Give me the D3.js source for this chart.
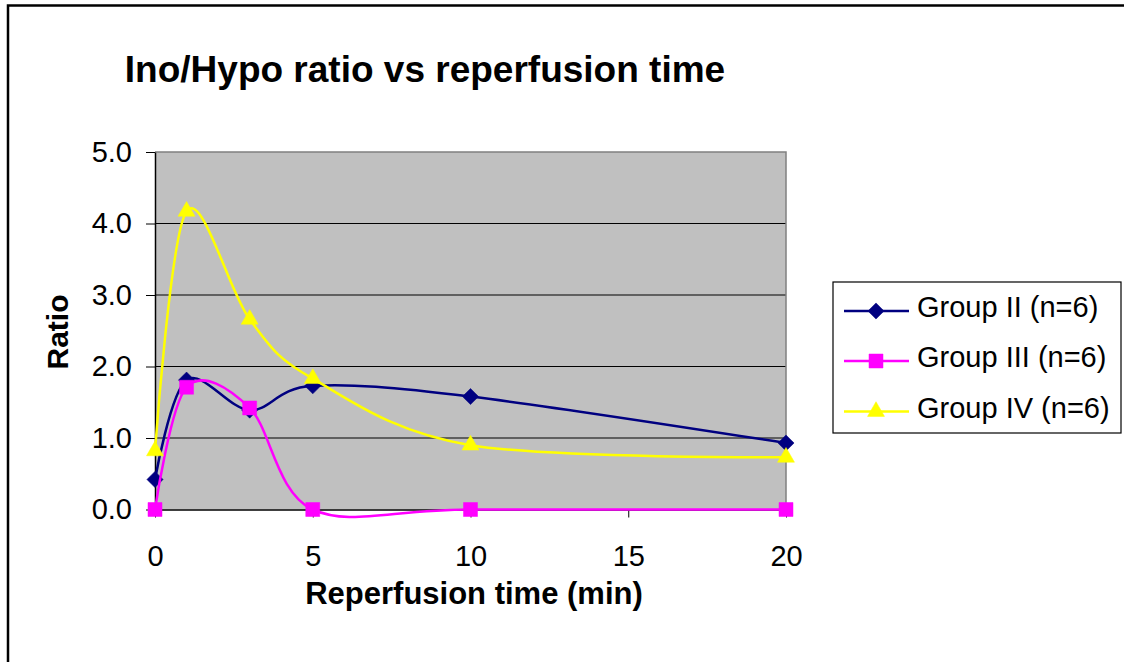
<!DOCTYPE html>
<html><head><meta charset="utf-8">
<script src="https://cdn.jsdelivr.net/npm/d3@7"></script>
<style>body{margin:0;background:#fff}svg{display:block;font-family:"Liberation Sans",Arial,sans-serif}</style>
</head><body><svg id="c" width="1124" height="662"></svg>
<script>
const times = [0, 1, 3, 5, 10, 20];
const groupII = [0.42, 1.81, 1.39, 1.73, 1.58, 0.93];
const groupIII = [0, 1.71, 1.42, 0, 0, 0];
const groupIV = [0.82, 4.17, 2.66, 1.83, 0.90, 0.73];
const seriesNames = ["Group II (n=6)", "Group III (n=6)", "Group IV (n=6)"];
const yTicks = [0, 1, 2, 3, 4, 5];
const xTicks = [0, 5, 10, 15, 20];
const titleText = "Ino/Hypo ratio vs reperfusion time";
const xTitle = "Reperfusion time (min)";
const yTitle = "Ratio";

const colors = ["#000080", "#FF00FF", "#FFFF00"];
const shapes = ["diamond", "square", "triangle"];
const seriesValues = [groupII, groupIII, groupIV];

const svg = d3.select("#c");
const L = 155, R = 786, T = 152, B = 509.5;
const x = d3.scaleLinear().domain([0, 20]).range([L, R]);
const y = d3.scaleLinear().domain([0, 5]).range([B, T]);

// outer border
svg.append("rect").attr("x", 8).attr("y", 5.5).attr("width", 1300).attr("height", 800)
  .attr("fill", "none").attr("stroke", "#000").attr("stroke-width", 2.5);

// plot background
svg.append("rect").attr("x", L).attr("y", T).attr("width", R - L).attr("height", B - T)
  .attr("fill", "#C0C0C0");
// gridlines
svg.append("g").selectAll("line").data(yTicks.filter(d => d > 0 && d < 5)).join("line")
  .attr("x1", L).attr("x2", R).attr("y1", d => y(d)).attr("y2", d => y(d))
  .attr("stroke", "#000").attr("stroke-width", 1);
// top and right border of plot
svg.append("path").attr("d", `M${L},${T}H${R}V${B}`).attr("fill", "none")
  .attr("stroke", "#808080").attr("stroke-width", 1.5);

// axes
const yAxis = svg.append("g").attr("transform", `translate(${L},0)`)
  .call(d3.axisLeft(y).tickValues(yTicks).tickFormat(d3.format(".1f")).tickSize(9).tickSizeOuter(0).tickPadding(14));
const xAxis = svg.append("g").attr("transform", `translate(0,${B})`)
  .call(d3.axisBottom(x).tickValues(xTicks).tickFormat(d3.format("d")).tickSize(8).tickSizeOuter(0).tickPadding(28));
[yAxis, xAxis].forEach(g => {
  g.selectAll("text").attr("font-size", 29).attr("fill", "#000").attr("font-family", "Liberation Sans, Arial, sans-serif");
  g.selectAll("line").attr("stroke", "#000").attr("stroke-width", 1);
  g.select(".domain").attr("stroke", "#000").attr("stroke-width", 1.5);
});

// series
function markerPath(shape) {
  if (shape === "diamond") return d3.symbol(d3.symbolSquare, 130)();
  if (shape === "square") return d3.symbol(d3.symbolSquare, 196)();
  return d3.symbol(d3.symbolTriangle, 125)();
}
const line = d3.line().x(d => x(d[0])).y(d => y(d[1])).curve(d3.curveCardinal.tension(0));
seriesValues.forEach((vals, i) => {
  const pts = times.map((t, j) => [t, vals[j]]);
  const g = svg.append("g");
  g.append("path").attr("d", line(pts)).attr("fill", "none")
    .attr("stroke", colors[i]).attr("stroke-width", 2.5);
  g.selectAll("path.m").data(pts).join("path").attr("class", "m")
    .attr("d", markerPath(shapes[i]))
    .attr("transform", d => `translate(${x(d[0])},${y(d[1])})` + (shapes[i] === "diamond" ? " rotate(45)" : ""))
    .attr("fill", colors[i]).attr("stroke", colors[i]).attr("stroke-width", 0.5);
});

// title
svg.append("text").attr("x", 425).attr("y", 82).attr("text-anchor", "middle")
  .attr("font-size", 37).attr("font-weight", "bold").text(titleText);
svg.append("text").attr("x", 474).attr("y", 604).attr("text-anchor", "middle")
  .attr("font-size", 31).attr("font-weight", "bold").text(xTitle);
svg.append("text").attr("transform", "translate(68,332) rotate(-90)").attr("text-anchor", "middle")
  .attr("font-size", 30).attr("font-weight", "bold").text(yTitle);

// legend
const lg = svg.append("g");
lg.append("rect").attr("x", 833).attr("y", 282).attr("width", 288).attr("height", 151)
  .attr("fill", "#fff").attr("stroke", "#000").attr("stroke-width", 1.2);
const legY = [311, 361, 411.5];
seriesNames.forEach((name, i) => {
  lg.append("line").attr("x1", 844).attr("x2", 909).attr("y1", legY[i]).attr("y2", legY[i])
    .attr("stroke", colors[i]).attr("stroke-width", 2.5);
  lg.append("path").attr("d", markerPath(shapes[i]))
    .attr("transform", `translate(876,${legY[i]})` + (shapes[i] === "diamond" ? " rotate(45)" : ""))
    .attr("fill", colors[i]).attr("stroke", colors[i]).attr("stroke-width", 0.5);
  lg.append("text").attr("x", 917).attr("y", legY[i] + 6).attr("font-size", 29).text(name);
});
</script></body></html>
